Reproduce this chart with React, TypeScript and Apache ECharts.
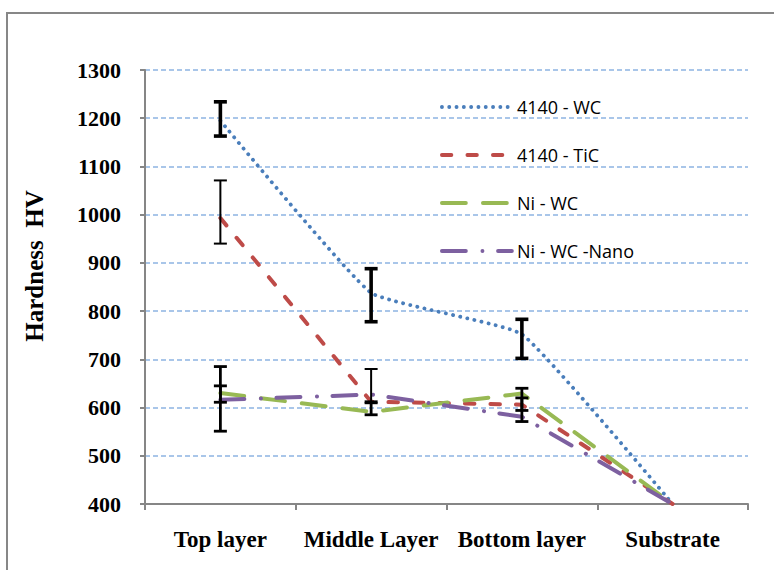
import React, { useEffect, useRef } from "react";
import * as echarts from "echarts";

const categories = ["Top layer", "Middle Layer", "Bottom layer", "Substrate"];
const seriesNames = ["4140 - WC", "4140 - TiC", "Ni - WC", "Ni - WC -Nano"];
const wc4140 = [1195, 838, 752, 400];
const tic4140 = [993, 612, 606, 400];
const niWc = [630, 591, 629, 400];
const niWcNano = [616, 627, 581, 400];
// error bars: [category index, low, high, stroke width]
const errorBars = [
  [0, 1163, 1234, 3.6],
  [0, 940, 1071, 2],
  [0, 611, 685, 2.8],
  [0, 551, 645, 2.8],
  [1, 778, 888, 3.6],
  [1, 609, 680, 2],
  [1, 585, 612, 2.8],
  [2, 702, 783, 3.6],
  [2, 594, 640, 2.8],
  [2, 571, 620, 2.8],
];
const yTicks = { min: 400, max: 1300, interval: 100 };

export default function App() {
  const ref = useRef<HTMLDivElement>(null);
  useEffect(() => {
    document.body.style.margin = "0";
    const chart = echarts.init(ref.current!, null, { renderer: "svg" });
    const serif = "'Liberation Serif', 'Times New Roman', serif";
    const lineSeries = (name: string, data: number[], color: string, width: number, dash: number[], smooth: number | boolean) => ({
      name,
      type: "line",
      data,
      symbol: "none",
      smooth,
      z: 3,
      lineStyle: { color, width, type: dash, cap: "round", join: "round" },
      itemStyle: { color },
    });
    chart.setOption({
      animation: false,
      backgroundColor: "#ffffff",
      grid: { left: 145, right: 26, top: 70, bottom: 66 },
      graphic: [
        {
          type: "rect",
          shape: { x: 7, y: 13, width: 800, height: 620 },
          style: { fill: "none", stroke: "#878787", lineWidth: 2 },
          silent: true,
          z: 0,
        },
        {
          type: "text",
          x: 34,
          y: 266,
          rotation: Math.PI / 2,
          style: {
            text: "Hardness  HV",
            font: `bold 25px ${serif}`,
            fill: "#000",
            textAlign: "center",
            textVerticalAlign: "middle",
          },
        },
      ],
      legend: {
        data: seriesNames,
        orient: "vertical",
        left: 435,
        top: 93,
        itemWidth: 70,
        itemHeight: 18,
        itemGap: 30,
        itemStyle: { color: "rgba(0,0,0,0)", borderWidth: 0, opacity: 0 },
        lineStyle: { width: 3.8, cap: "round" },
        textStyle: { fontFamily: "'Open Sans', sans-serif", fontSize: 18, color: "#000", lineHeight: 18 },
      },
      xAxis: {
        type: "category",
        data: categories,
        boundaryGap: true,
        axisLine: { lineStyle: { color: "#868686", width: 2 } },
        axisTick: { show: true, length: 6, lineStyle: { color: "#868686", width: 2 } },
        axisLabel: { interval: 0, fontFamily: serif, fontWeight: "bold", fontSize: 23, color: "#000", margin: 24 },
        splitLine: { show: false },
      },
      yAxis: {
        type: "value",
        min: yTicks.min,
        max: yTicks.max,
        interval: yTicks.interval,
        axisLine: { show: true, lineStyle: { color: "#868686", width: 2 } },
        axisTick: { show: true, length: 5, lineStyle: { color: "#868686", width: 2 } },
        axisLabel: {
          formatter: (v: number) => String(v),
          fontFamily: serif,
          fontWeight: "bold",
          fontSize: 22,
          color: "#000",
          margin: 24,
        },
        splitLine: { show: true, lineStyle: { color: "#8DB4E2", width: 1.6, type: [5, 3] } },
      },
      series: [
        lineSeries(seriesNames[0], wc4140, "#4A7EBB", 3.8, [0.1, 7.2], 0.12),
        lineSeries(seriesNames[1], tic4140, "#BE4B48", 4, [9.5, 16], false),
        lineSeries(seriesNames[2], niWc, "#98B954", 4, [24, 17], false),
        lineSeries(seriesNames[3], niWcNano, "#7D60A0", 4, [24, 16.5, 0.1, 15.5], false),
        {
          type: "custom",
          name: "errors",
          z: 5,
          data: errorBars,
          encode: { x: 0, y: [1, 2] },
          renderItem: (params: any, api: any) => {
            const idx = api.value(0);
            const lo = api.value(1);
            const hi = api.value(2);
            const w = api.value(3);
            const p1 = api.coord([idx, lo]);
            const p2 = api.coord([idx, hi]);
            const half = 6.5;
            const st = { stroke: "#000", lineWidth: w };
            return {
              type: "group",
              children: [
                { type: "line", shape: { x1: p1[0], y1: p1[1], x2: p2[0], y2: p2[1] }, style: st },
                { type: "line", shape: { x1: p1[0] - half, y1: p1[1], x2: p1[0] + half, y2: p1[1] }, style: st },
                { type: "line", shape: { x1: p2[0] - half, y1: p2[1], x2: p2[0] + half, y2: p2[1] }, style: st },
              ],
            };
          },
        },
      ],
    });
    return () => chart.dispose();
  }, []);
  return <div ref={ref} style={{ width: 774, height: 570 }} />;
}
